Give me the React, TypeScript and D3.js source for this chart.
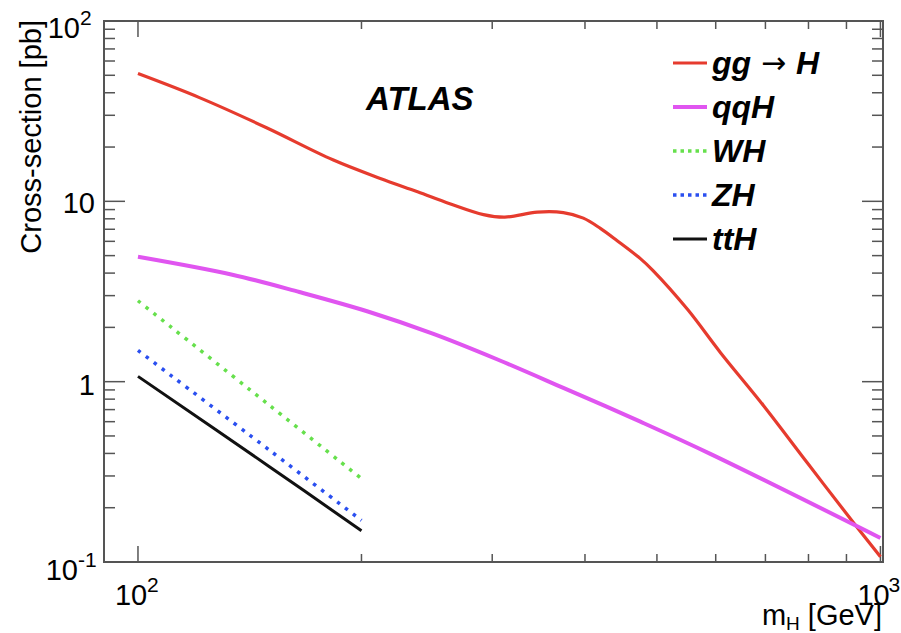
import React from 'react';
import * as d3 from 'd3';

// ---- data ----
const massGG = [100, 121, 149, 183, 212, 238, 263, 292, 312, 345, 374, 398, 420, 442, 475, 494, 550, 609, 696, 797, 920, 1000];
const xsecGG = [51.1, 37.6, 25.6, 17.0, 13.4, 11.3, 9.7, 8.44, 8.17, 8.71, 8.66, 8.07, 7.06, 6.05, 4.81, 4.13, 2.51, 1.448, 0.736, 0.355, 0.165, 0.107];

const massQQ = [100, 134, 165, 204, 250, 305, 374, 475, 590, 1000];
const xsecQQ = [4.93, 3.92, 3.14, 2.45, 1.84, 1.327, 0.924, 0.6, 0.398, 0.136];

const massVH = [100, 150, 200];
const xsecWH = [2.81, 0.745, 0.29];
const xsecZH = [1.49, 0.42, 0.17];
const xsecTTH = [1.07, 0.34, 0.149];

const legendLabels = ['gg', 'qqH', 'WH', 'ZH', 'ttH'];
const xMajorTicks = [100, 1000];
const xMinorTicks = [200, 300, 400, 500, 600, 700, 800, 900];
const yMajorTicks = [0.1, 1, 10, 100];
const yMinorTicks = [0.2, 0.3, 0.4, 0.5, 0.6, 0.7, 0.8, 0.9, 2, 3, 4, 5, 6, 7, 8, 9, 20, 30, 40, 50, 60, 70, 80, 90];

const FONT = "'Liberation Sans', Arial, Helvetica, sans-serif";

export default function App() {
  const W = 901, H = 633;
  const L = 104, R = 883, T = 21, B = 562;
  const x = d3.scaleLog().domain([90, 1008]).range([L, R]);
  const y = d3.scaleLog().domain([0.1, 100]).range([B, T]);
  const line = d3
    .line<[number, number]>()
    .x((d) => x(d[0]))
    .y((d) => y(d[1]))
    .curve(d3.curveCatmullRom.alpha(0.5));

  const zip = (a: number[], b: number[]) => a.map((v, i) => [v, b[i]] as [number, number]);

  const series = [
    { d: zip(massGG, xsecGG), color: '#e63b2e', width: 3.2, dash: undefined },
    { d: zip(massQQ, xsecQQ), color: '#e055f0', width: 4, dash: undefined },
    { d: zip(massVH, xsecWH), color: '#66e04c', width: 3.5, dash: '3.5 6.5' },
    { d: zip(massVH, xsecZH), color: '#2a4ff0', width: 3.5, dash: '3.5 6.5' },
    { d: zip(massVH, xsecTTH), color: '#111111', width: 3, dash: undefined },
  ];

  const axisColor = '#555';
  const legendY = [63, 107, 151, 195, 239];

  return (
    <svg
      width={W}
      height={H}
      style={{ position: 'absolute', left: 0, top: 0, background: '#fff' }}
      fontFamily={FONT}
    >
      <rect x={0} y={0} width={W} height={H} fill="#fff" />
      {/* frame */}
      <rect x={L} y={T} width={R - L} height={B - T} fill="none" stroke={axisColor} strokeWidth={2} />

      {/* x ticks */}
      {xMajorTicks.map((t) => (
        <g key={'xM' + t} stroke={axisColor} strokeWidth={1.5}>
          <line x1={x(t)} x2={x(t)} y1={B} y2={B - 16} />
          <line x1={x(t)} x2={x(t)} y1={T} y2={T + 16} />
        </g>
      ))}
      {xMinorTicks.map((t) => (
        <g key={'xm' + t} stroke={axisColor} strokeWidth={1.5}>
          <line x1={x(t)} x2={x(t)} y1={B} y2={B - 8} />
          <line x1={x(t)} x2={x(t)} y1={T} y2={T + 8} />
        </g>
      ))}
      {/* y ticks */}
      {yMajorTicks.map((t) => (
        <g key={'yM' + t} stroke={axisColor} strokeWidth={1.5}>
          <line x1={L} x2={L + 21} y1={y(t)} y2={y(t)} />
          <line x1={R} x2={R - 21} y1={y(t)} y2={y(t)} />
        </g>
      ))}
      {yMinorTicks.map((t) => (
        <g key={'ym' + t} stroke={axisColor} strokeWidth={1.5}>
          <line x1={L} x2={L + 11} y1={y(t)} y2={y(t)} />
          <line x1={R} x2={R - 11} y1={y(t)} y2={y(t)} />
        </g>
      ))}

      {/* y tick labels */}
      <g fill="#000" fontSize={29}>
        <text x={80} y={y(100) + 17} textAnchor="end">10</text>
        <text x={80} y={y(100) + 4} fontSize={21}>2</text>
        <text x={95} y={y(10) + 12} textAnchor="end">10</text>
        <text x={95} y={y(1) + 13} textAnchor="end">1</text>
        <text x={78} y={y(0.1) + 18} textAnchor="end">10</text>
        <text x={78} y={y(0.1) + 5} fontSize={21}>-1</text>
      </g>
      {/* x tick labels */}
      <g fill="#000" fontSize={29}>
        <text x={x(100) - 23} y={605}>10</text>
        <text x={x(100) + 9} y={592} fontSize={21}>2</text>
        <text x={x(1000) - 23} y={605}>10</text>
        <text x={x(1000) + 8} y={592} fontSize={21}>3</text>
      </g>

      {/* axis titles */}
      <text x={41} y={20} transform="rotate(-90 41 20)" textAnchor="end" fontSize={29} fill="#000">
        Cross-section [pb]
      </text>
      <text x={882} y={625} textAnchor="end" fontSize={29} fill="#000">
        m<tspan dy={5} fontSize={19}>H</tspan>
        <tspan dy={-5}> [GeV]</tspan>
      </text>

      {/* curves */}
      {series.map((s, i) => (
        <path
          key={'s' + i}
          d={line(s.d) || ''}
          fill="none"
          stroke={s.color}
          strokeWidth={s.width}
          strokeDasharray={s.dash}
          strokeLinejoin="round"
        />
      ))}

      {/* ATLAS label */}
      <text x={366} y={110} fontSize={33} fontWeight="bold" fontStyle="italic" fill="#000">
        ATLAS
      </text>

      {/* legend */}
      {series.map((s, i) => (
        <g key={'lg' + i}>
          <line
            x1={673}
            x2={707}
            y1={legendY[i]}
            y2={legendY[i]}
            stroke={s.color}
            strokeWidth={s.width}
            strokeDasharray={s.dash ? '3.5 4' : undefined}
          />
          <text x={712} y={legendY[i] + 11} fontSize={32} fontWeight="bold" fontStyle="italic" fill="#000">
            {legendLabels[i]}
          </text>
        </g>
      ))}
      <text x={761} y={legendY[0] + 10} fontSize={30} fill="#000" fontFamily="'DejaVu Sans', sans-serif">
        →
      </text>
      <text x={796} y={legendY[0] + 11} fontSize={32} fontWeight="bold" fontStyle="italic" fill="#000">
        H
      </text>
    </svg>
  );
}
